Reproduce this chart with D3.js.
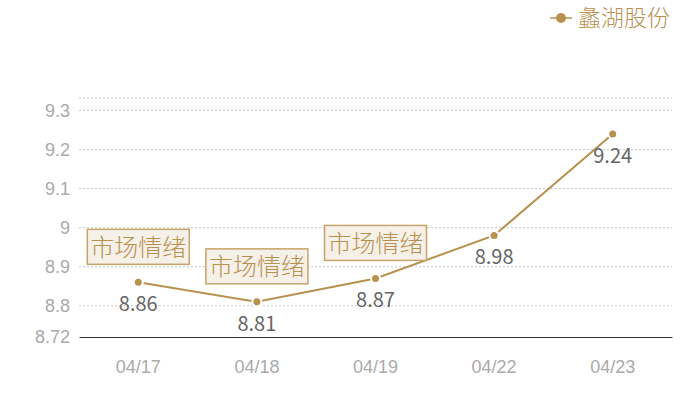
<!DOCTYPE html>
<html>
<head>
<meta charset="utf-8">
<script src="https://cdn.jsdelivr.net/npm/d3@7"></script>
<style>
  body { margin: 0; background: #fff; }
  svg { font-family: "Noto Sans CJK SC", "Noto Sans", sans-serif; font-weight: 300; }
</style>
</head>
<body>
<svg width="700" height="400"></svg>
<script>
// chart data
const dates = ["04/17", "04/18", "04/19", "04/22", "04/23"];
const prices = [8.86, 8.81, 8.87, 8.98, 9.24];
const yTicks = [8.72, 8.8, 8.9, 9, 9.1, 9.2, 9.3];
const marked = ["04/17", "04/18", "04/19"]; // points that carry a note
const noteText = "市场情绪";
const seriesName = "蠡湖股份";

const gold = "#b8914f";

const svg = d3.select("svg"),
  margin = {top: 98, right: 28, bottom: 63, left: 79},
  width = +svg.attr("width") - margin.left - margin.right,
  height = +svg.attr("height") - margin.top - margin.bottom;

const yMin = 8.72, yMax = 9.332;
const x = d3.scaleBand().domain(dates).range([0, width]);
const y = d3.scaleLinear().domain([yMin, yMax]).range([height, 0]);

const g = svg.append("g")
  .attr("transform", "translate(" + margin.left + "," + margin.top + ")");

// grid lines (dotted), including the top edge
g.selectAll(".grid")
  .data(yTicks.filter(t => t !== yMin).concat([yMax]))
  .enter().append("line")
  .attr("x1", 0).attr("x2", width)
  .attr("y1", d => y(d)).attr("y2", d => y(d))
  .attr("stroke", "#c8c8c8")
  .attr("stroke-dasharray", "2,2");

// y axis labels
g.append("g")
  .call(d3.axisLeft(y).tickValues(yTicks).tickSize(0).tickPadding(9).tickFormat(d => String(d)))
  .call(a => a.select(".domain").remove())
  .selectAll("text")
  .attr("fill", "#aaa")
  .style("font-size", "18px");

// x axis
g.append("g")
  .attr("transform", "translate(0," + height + ")")
  .call(d3.axisBottom(x).tickSize(0).tickPadding(23))
  .call(a => a.select(".domain").attr("stroke", "#333"))
  .selectAll("text")
  .attr("fill", "#aaa")
  .style("font-size", "18px");

const cx = d => x(d) + x.bandwidth() / 2;
const pts = dates.map((d, i) => ({date: d, value: prices[i]}));

// the line
g.append("path")
  .datum(pts)
  .attr("fill", "none")
  .attr("stroke", gold)
  .attr("stroke-width", 2)
  .attr("d", d3.line().x(d => cx(d.date)).y(d => y(d.value)));

// dots with a white ring so the line stops short of them
g.selectAll(".dot")
  .data(pts)
  .enter().append("circle")
  .attr("cx", d => cx(d.date))
  .attr("cy", d => y(d.value))
  .attr("r", 4.5)
  .attr("fill", gold)
  .attr("stroke", "#fff")
  .attr("stroke-width", 2);

// value labels under each point
g.selectAll(".val")
  .data(pts)
  .enter().append("text")
  .attr("x", d => cx(d.date))
  .attr("y", d => y(d.value) + 29)
  .attr("text-anchor", "middle")
  .attr("fill", "#666")
  .style("font-size", "20px")
  .style("font-weight", 400)
  .text(d => d.value);

// note boxes above marked points
const notes = g.selectAll(".note")
  .data(pts.filter(d => marked.includes(d.date)))
  .enter().append("g")
  .attr("transform", d => "translate(" + cx(d.date) + "," + (y(d.value) - 35) + ")");

notes.append("rect")
  .attr("x", -51).attr("y", -18)
  .attr("width", 102).attr("height", 35)
  .attr("fill", "#f5f0e8")
  .attr("stroke", "#c9a46a")
  .attr("stroke-width", 1.5);

notes.append("text")
  .attr("text-anchor", "middle")
  .attr("dy", "0.36em")
  .attr("fill", gold)
  .style("font-size", "24px")
  .text(noteText);

// legend
const lg = svg.append("g").attr("transform", "translate(550,18)");
lg.append("line").attr("x1", 0).attr("x2", 22).attr("stroke", gold).attr("stroke-width", 1.5);
lg.append("circle").attr("cx", 11).attr("r", 5).attr("fill", gold);
lg.append("text")
  .attr("x", 28).attr("dy", "0.36em")
  .attr("fill", gold)
  .style("font-size", "23px")
  .text(seriesName);
</script>
</body>
</html>
